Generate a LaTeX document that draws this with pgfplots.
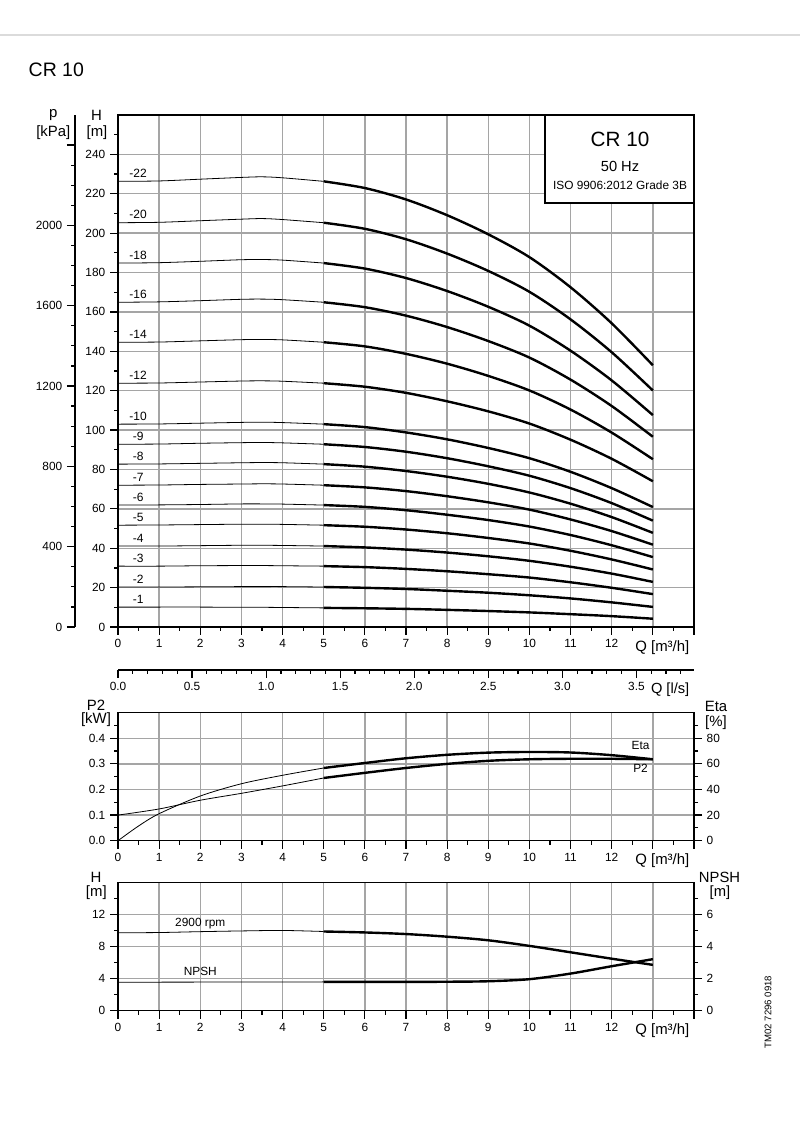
\documentclass[border=0pt]{standalone}
\usepackage{fontspec}
\setmainfont{Liberation Sans}
\usepackage{pgfplots}
\usepackage{pgfplotstable}
\pgfplotsset{compat=1.18}
\definecolor{gridc}{RGB}{165,165,165}
\newcommand\fs[1]{\fontsize{#1}{#1}\selectfont}

% head per pump size, thin part (0-5 m3/h)
\pgfplotstableread{
Q   n1   n2   n3   n4   n5   n6   n7   n8   n9   n10   n12   n14   n16   n18   n20   n22
0   10.1 20.3 30.9 41.1 51.7 61.9 72.0 82.7 92.8 103.0 123.8 144.6 164.9 184.8 205.3 226.3
1   10.1 20.3 30.9 41.1 51.8 62.0 72.1 82.8 92.9 103.1 123.9 144.7 165.1 185.0 205.5 226.5
2   10.1 20.4 31.1 41.3 52.0 62.2 72.4 83.1 93.3 103.5 124.4 145.3 165.7 185.7 206.3 227.4
3   10.0 20.5 31.2 41.5 52.2 62.5 72.6 83.4 93.6 103.9 124.9 145.9 166.4 186.5 207.1 228.3
3.5 10.0 20.5 31.2 41.5 52.2 62.5 72.7 83.5 93.7 104.0 125.0 146.0 166.5 186.6 207.4 228.6
4   9.9  20.5 31.1 41.4 52.1 62.4 72.6 83.4 93.5 103.8 124.8 145.8 166.2 186.3 206.9 228.1
5   9.7  20.3 30.9 41.1 51.7 61.9 72.0 82.7 92.8 103.0 123.8 144.6 164.9 184.8 205.3 226.3
}\thin
% thick part (5-13 m3/h)
\pgfplotstableread{
Q   n1   n2   n3   n4   n5   n6   n7   n8   n9   n10   n12   n14   n16   n18   n20   n22
5   9.7  20.3 30.9 41.1 51.7 61.9 72.0 82.7 92.8 103.0 123.8 144.6 164.9 184.8 205.3 226.3
6   9.5  19.9 30.4 40.4 50.9 61.0 70.9 81.4 91.4 101.5 122.0 142.5 162.4 182.0 202.2 222.9
7   9.2  19.3 29.5 39.3 49.5 59.3 69.0 79.2 89.0 98.8  118.9 138.7 158.1 177.2 196.9 217.1
8   8.7  18.4 28.3 37.8 47.6 57.0 66.4 76.3 85.7 95.3  114.6 133.7 152.3 170.6 189.6 209.1
9   8.1  17.4 26.8 35.9 45.2 54.3 63.3 72.7 81.6 90.9  109.5 127.5 145.2 162.6 180.8 199.4
10  7.4  16.1 25.1 33.6 42.4 51.0 59.6 68.3 76.8 85.7  103.3 120.1 136.8 153.0 170.2 187.8
11  6.5  14.5 22.7 30.6 38.7 46.7 54.6 62.6 70.5 78.8  95.1  110.4 125.6 140.3 156.2 172.5
12  5.5  12.5 19.9 27.1 34.3 41.5 48.7 55.8 62.9 70.5  85.4  98.7  112.2 125.2 139.5 154.2
13  4.2  10.2 16.7 22.9 29.2 35.5 41.8 47.8 54.0 60.9  74.0  85.2  96.6  107.6 120.1 132.9
}\thick

\pgfplotsset{
  ticks/.style={
    major tick length=6pt, minor tick length=3pt,
    tick style={black, line width=0.9pt},
    tick align=outside,
    tick label style={font=\fs{8.9}},
    /pgf/number format/assume math mode=true},
  base/.style={scale only axis, width=432pt, xmin=0, xmax=14,
    anchor=south west,
    axis line style={line width=1.1pt},
    ticks,
    grid=major, major grid style={gridc, line width=1pt},
    xtick={0,...,14}, xticklabels={0,1,2,3,4,5,6,7,8,9,10,11,12,{},{}},
    minor x tick num=1,
    xtick pos=bottom, ytick pos=left,
    clip=false},
  rightax/.style={scale only axis, width=432pt, xmin=0, xmax=14,
    anchor=south west,
    axis x line=none, axis y line*=right,
    axis line style={-, line width=1.1pt},
    ticks},
  thinl/.style={black, line width=0.6pt, smooth},
  thickl/.style={black, line width=1.8pt, smooth},
}

\begin{document}
\begin{tikzpicture}[x=0.75pt, y=0.75pt]
\useasboundingbox (0,0) rectangle (800,1144);

\draw[black!14, line width=2.2pt] (0,1109) -- (800,1109);
\node[anchor=west, font=\fs{14.6}] at (24,1074) {CR 10};

% ---------- head curves ----------
\begin{axis}[base, at={(88.5pt,387.75pt)}, height=384pt, ymin=0, ymax=260,
  ytick={0,20,...,240}, minor ytick={10,30,...,250}]
\pgfplotsinvokeforeach{1,2,3,4,5,6,7,8,9,10,12,14,16,18,20,22}{
  \addplot[thinl] table[x=Q, y=n#1] {\thin};
  \addplot[thickl] table[x=Q, y=n#1] {\thick};
}
\begin{scope}[every node/.style={anchor=base, font=\fs{9}}]
\node at (axis cs:0.49,228.2) {-22};
\node at (axis cs:0.49,207.2) {-20};
\node at (axis cs:0.49,186.7) {-18};
\node at (axis cs:0.49,166.8) {-16};
\node at (axis cs:0.49,146.5) {-14};
\node at (axis cs:0.49,125.7) {-12};
\node at (axis cs:0.49,104.9) {-10};
\node at (axis cs:0.49,94.7) {-9};
\node at (axis cs:0.49,84.6) {-8};
\node at (axis cs:0.49,73.9) {-7};
\node at (axis cs:0.49,63.8) {-6};
\node at (axis cs:0.49,53.6) {-5};
\node at (axis cs:0.49,43.0) {-4};
\node at (axis cs:0.49,32.8) {-3};
\node at (axis cs:0.49,22.2) {-2};
\node at (axis cs:0.49,12.0) {-1};
\end{scope}
\end{axis}

% pressure scale
\begin{axis}[scale only axis, width=5pt, height=384pt, at={(56.25pt,387.75pt)},
  anchor=south west, xmin=0, xmax=1, ymin=0, ymax=2549.7,
  axis x line=none, axis y line*=left, axis line style={-, line width=1.1pt},
  ticks, ytick={0,400,800,1200,1600,2000,2400},
  yticklabels={0,400,800,1200,1600,2000,{}}, minor y tick num=3]
\addplot[draw=none] coordinates {(0,0)};
\end{axis}

% info box
\draw[fill=white, line width=1pt] (545,1029) rectangle (694,941);
\node[font=\fs{15.5}] at (620,1005) {CR 10};
\node[font=\fs{11}] at (620,978) {50 Hz};
\node[font=\fs{8.9}] at (620,959) {ISO 9906:2012 Grade 3B};

\node[font=\fs{11.2}] at (96.5,1029) {H};
\node[font=\fs{11.2}] at (97,1011) {[m]};
\node[font=\fs{11.2}] at (53.3,1029) {p};
\node[font=\fs{11.2}] at (53.3,1011) {[kPa]};
\node[anchor=east, font=\fs{11.2}] at (694,496) {Q [m³/h]};

% ---------- l/s scale ----------
\begin{axis}[scale only axis, width=432pt, height=10pt, at={(88.5pt,355.5pt)},
  anchor=south west, xmin=0, xmax=3.88889, ymin=0, ymax=1,
  axis y line=none, axis x line*=bottom, axis line style={-, line width=1.1pt},
  ticks, xtick={0,0.5,1,1.5,2,2.5,3,3.5},
  minor xtick={0.1,0.2,...,3.85},
  xticklabel style={/pgf/number format/.cd, fixed, fixed zerofill, precision=1}]
\addplot[draw=none] coordinates {(0,0)};
\end{axis}
\node[anchor=east, font=\fs{11}] at (694,454) {Q [l/s]};

% ---------- P2 / Eta ----------
\begin{axis}[base, at={(88.5pt,227.475pt)}, height=96pt, ymin=0, ymax=0.5,
  ytick={0,0.1,0.2,0.3,0.4}, minor ytick={0.05,0.15,0.25,0.35,0.45},
  yticklabel style={/pgf/number format/.cd, fixed, fixed zerofill, precision=1}]
\addplot[thinl] coordinates {(0,0.100) (1,0.124) (2,0.158) (3,0.185) (4,0.214) (5,0.245)};
\addplot[thickl] coordinates {(5,0.245) (6,0.265) (7,0.284) (8,0.300) (9,0.312) (10,0.318) (11,0.320) (12,0.320) (13,0.318)};
\node[font=\fs{8.9}] at (axis cs:12.7,0.370) {Eta};
\node[font=\fs{8.9}] at (axis cs:12.7,0.283) {P2};
\end{axis}
\begin{axis}[rightax, at={(88.5pt,227.475pt)}, height=96pt, ymin=0, ymax=100,
  ytick={0,20,40,60,80}, minor ytick={10,30,50,70,90}]
\addplot[thinl] coordinates {(0,0) (0.5,11.5) (1,21.1) (2,34.9) (3,44.5) (4,51.1) (5,56.8)};
\addplot[thickl] coordinates {(5,56.8) (6,60.7) (7,64.4) (8,67.1) (9,68.8) (10,69.3) (11,68.9) (12,66.8) (13,63.6)};
\end{axis}
\node[font=\fs{11.2}] at (96,439) {P2};
\node[font=\fs{11.2}] at (96,424) {[kW]};
\node[font=\fs{11.2}] at (716,438) {Eta};
\node[font=\fs{11.2}] at (716,421) {[\%]};
\node[anchor=east, font=\fs{11.2}] at (694,283.5) {Q [m³/h]};

% ---------- H / NPSH ----------
\begin{axis}[base, at={(88.5pt,99.975pt)}, height=96pt, ymin=0, ymax=16,
  ytick={0,4,8,12}, minor ytick={2,6,10,14}]
\addplot[thinl] coordinates {(0,9.74) (1,9.77) (2,9.88) (3,9.97) (4,10.03) (5,9.90)};
\addplot[thickl] coordinates {(5,9.90) (6,9.78) (7,9.58) (8,9.25) (9,8.80) (10,8.10) (11,7.30) (12,6.50) (13,5.73)};
\node[font=\fs{8.9}] at (axis cs:2.0,10.9) {2900 rpm};
\node[font=\fs{8.9}] at (axis cs:2.0,4.9) {NPSH};
\end{axis}
\begin{axis}[rightax, at={(88.5pt,99.975pt)}, height=96pt, ymin=0, ymax=8,
  ytick={0,2,4,6}, minor ytick={1,3,5,7}]
\addplot[thinl] coordinates {(0,1.78) (2.5,1.79) (5,1.80)};
\addplot[thickl] coordinates {(5,1.80) (6,1.80) (7,1.80) (8,1.81) (9,1.84) (10,1.97) (11,2.32) (12,2.78) (13,3.22)};
\end{axis}
\node[font=\fs{11.2}] at (96,267) {H};
\node[font=\fs{11.2}] at (96.3,251) {[m]};
\node[font=\fs{11.1}] at (719.5,267) {NPSH};
\node[font=\fs{11.1}] at (720,251) {[m]};
\node[anchor=east, font=\fs{11.2}] at (694,113) {Q [m³/h]};

\node[rotate=90, font=\fs{7.2}] at (768,132) {TM02 7296 0918};
\end{tikzpicture}
\end{document}
